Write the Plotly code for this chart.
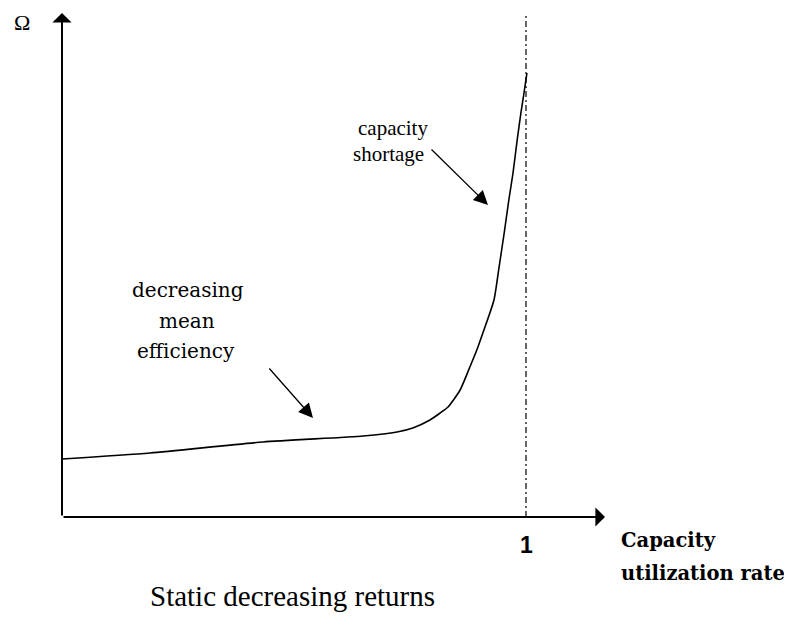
import plotly.graph_objects as go

# Curve: capacity utilization rate (u) vs Omega
utilization = [0.0, 0.190, 0.433, 0.649, 0.722, 0.756, 0.793, 0.815, 0.832, 0.858,
               0.879, 0.894, 0.907, 0.931, 0.942, 0.953, 0.963, 0.972, 0.981,
               0.989, 0.995, 1.002]
omega = [0.58, 0.64, 0.75, 0.81, 0.85, 0.89, 0.97, 1.04, 1.10, 1.27,
         1.50, 1.67, 1.84, 2.17, 2.50, 2.84, 3.17, 3.44, 3.77,
         4.04, 4.22, 4.44]

x_tick_vals = [1]
x_tick_text = ["1"]

PAGE_W, PAGE_H = 792, 625
OFFSET = 8                       # default body margin of the page
FIG_W, FIG_H = PAGE_W - OFFSET, PAGE_H - OFFSET
X0_PX, X1_PX = 62, 526           # page pixel of u=0 and u=1
Y0_PX, PX_PER_UNIT = 517, 100.0  # page pixel of Omega=0, px per unit

x_range = [(OFFSET - X0_PX) / (X1_PX - X0_PX), (PAGE_W - X0_PX) / (X1_PX - X0_PX)]
y_range = [(Y0_PX - PAGE_H) / PX_PER_UNIT, (Y0_PX - OFFSET) / PX_PER_UNIT]


def px2u(px):
    return (px - X0_PX) / (X1_PX - X0_PX)


def py2o(py):
    return (Y0_PX - py) / PX_PER_UNIT


fig = go.Figure()

# vertical dash-dot line at u = 1
fig.add_trace(go.Scatter(x=[1, 1], y=[0, py2o(15)], mode="lines",
                         line=dict(color="black", width=1.2, dash="6px,3px,2px,3px"),
                         hoverinfo="skip", showlegend=False))

# main curve
fig.add_trace(go.Scatter(x=utilization, y=omega, mode="lines",
                         line=dict(color="black", width=1.6, shape="spline", smoothing=0.6),
                         showlegend=False))

ann = []
# axes with arrow heads
ann.append(dict(x=0, y=py2o(13), ax=0, ay=0, xref="x", yref="y", axref="x", ayref="y",
                showarrow=True, arrowhead=1, arrowsize=1.6, arrowwidth=2,
                arrowcolor="black", text=""))
ann.append(dict(x=px2u(605), y=0, ax=0, ay=0, xref="x", yref="y", axref="x", ayref="y",
                showarrow=True, arrowhead=1, arrowsize=1.6, arrowwidth=2,
                arrowcolor="black", text=""))
# label arrows
ann.append(dict(x=px2u(488), y=py2o(205), ax=px2u(430), ay=py2o(148),
                xref="x", yref="y", axref="x", ayref="y",
                showarrow=True, arrowhead=2, arrowsize=2.2, arrowwidth=1.3,
                arrowcolor="black", text=""))
ann.append(dict(x=px2u(313), y=py2o(418), ax=px2u(268), ay=py2o(367),
                xref="x", yref="y", axref="x", ayref="y",
                showarrow=True, arrowhead=2, arrowsize=2.2, arrowwidth=1.3,
                arrowcolor="black", text=""))

serif = "Liberation Serif"


def label(text, x, y, size, family=serif, xanchor="center"):
    ann.append(dict(text=text, x=x, y=y, xref="x", yref="y", showarrow=False,
                    xanchor=xanchor, yanchor="middle",
                    font=dict(family=family, size=size, color="black")))


label("capacity", px2u(393), py2o(128), 21)
label("shortage", px2u(388), py2o(154), 21)
label("decreasing", px2u(188), py2o(290), 20, family="DejaVu Serif")
label("mean", px2u(187), py2o(321), 20, family="DejaVu Serif")
label("efficiency", px2u(186), py2o(351), 20, family="DejaVu Serif")
label("Ω", px2u(22), py2o(22), 22)
for v, t in zip(x_tick_vals, x_tick_text):
    label("<b>" + t + "</b>", v, py2o(545), 23, family="Liberation Sans")
label("<b>Capacity</b>", px2u(619), py2o(540), 19.5, family="DejaVu Serif", xanchor="left")
label("<b>utilization rate</b>", px2u(619), py2o(573), 19.5, family="DejaVu Serif", xanchor="left")
label("Static decreasing returns", px2u(292), py2o(596), 29)

fig.update_layout(
    width=FIG_W, height=FIG_H,
    margin=dict(l=0, r=0, t=0, b=0),
    paper_bgcolor="white", plot_bgcolor="white",
    xaxis=dict(range=x_range, visible=False, fixedrange=True),
    yaxis=dict(range=y_range, visible=False, fixedrange=True),
    annotations=ann,
    showlegend=False,
)

fig.write_html("out.html")
